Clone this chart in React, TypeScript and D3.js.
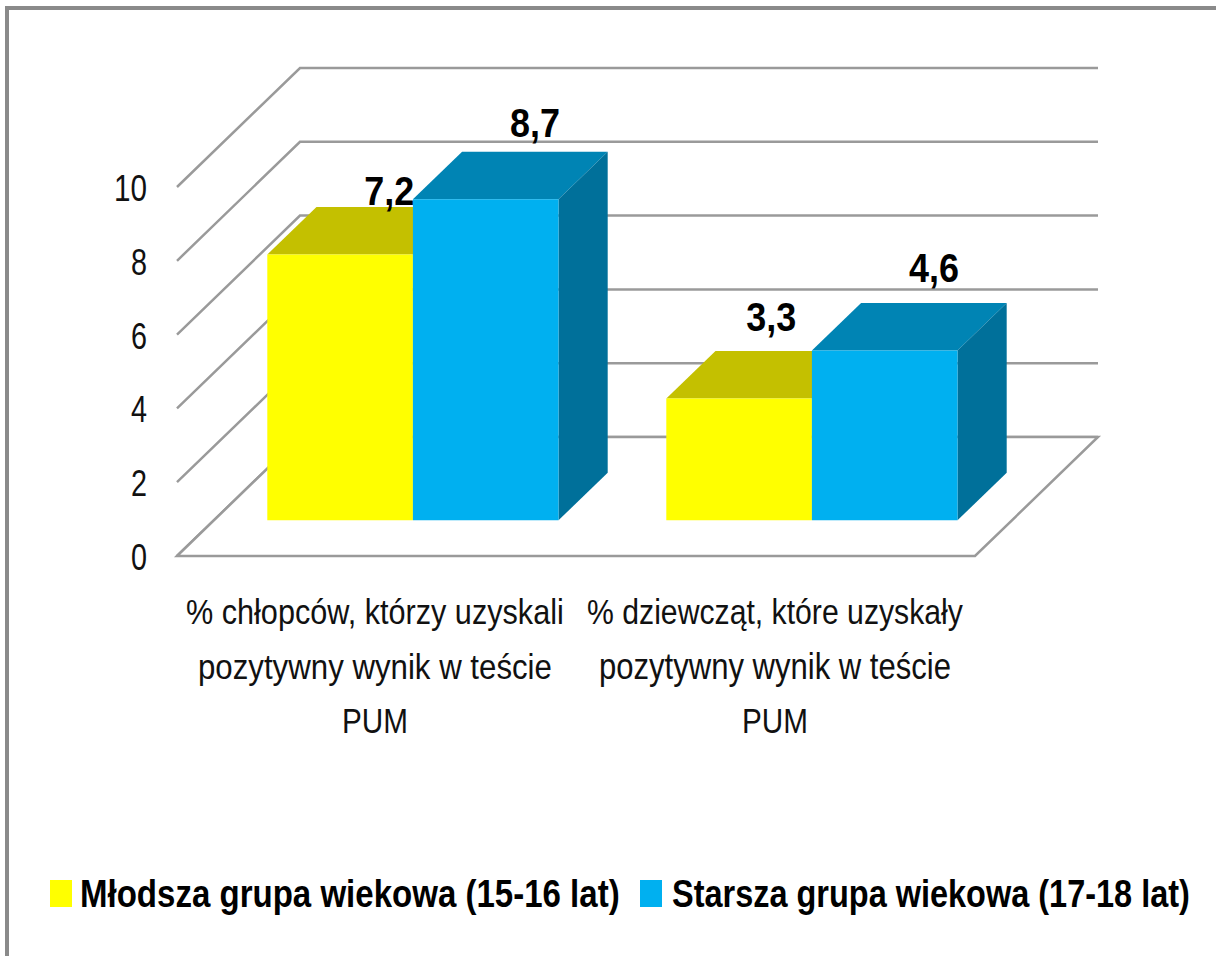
import React from "react";
import * as d3 from "d3";

const categories = ["boys", "girls"];
const categoryLines = [
  ["% chłopców, którzy uzyskali", "pozytywny wynik w teście", "PUM"],
  ["% dziewcząt, które uzyskały", "pozytywny wynik w teście", "PUM"],
];
const seriesNames = ["Młodsza grupa wiekowa (15-16 lat)", "Starsza grupa wiekowa (17-18 lat)"];
const younger = [7.2, 3.3];
const older = [8.7, 4.6];
const valueLabels = [["7,2", "3,3"], ["8,7", "4,6"]];
const yTicks = [0, 2, 4, 6, 8, 10];

const frontColors = ["#ffff00", "#00b0f0"];
const topColors = ["#c4c000", "#0084b4"];
const sideColors = ["#9a9800", "#00709a"];
const gridColor = "#9a9a9a";
const family = "'Liberation Sans'";

const y = d3.scaleLinear().domain([0, 10]).range([556, 187]);
const depthX = d3.scaleLinear().domain([0, 1]).range([0, 123]);
const depthY = d3.scaleLinear().domain([0, 1]).range([0, -119]);
const x0 = d3.scaleBand().domain(categories).range([176.5, 974.5]).paddingInner(0.27).paddingOuter(0.135);
const x1 = d3.scaleBand().domain(["0", "1"]).range([0, x0.bandwidth()]);
const D0 = 0.3;
const D1 = 0.7;
const pt = (x: number, v: number, d: number) => [x + depthX(d), y(v) + depthY(d)].map((n) => n.toFixed(1)).join(",");
const px = (x: number, v: number, d: number) => [x + depthX(d), y(v) + depthY(d)];
// hand placement of the value labels relative to the back top edge of the bar
const labelNudge = [[[0, -2], [-17, -20]], [[0, -15], [0, -21]]];
const catWidths = [[378, 354, 66], [376, 352, 66]];
const catCenters = [375, 775];

const ctx = document.createElement("canvas").getContext("2d")!;
function FitText({ text, x, y: ty, width, size, bold, fill, anchor = "start" }: {
  text: string; x: number; y: number; width: number; size: number; bold?: boolean; fill: string; anchor?: string;
}) {
  ctx.font = `${bold ? "bold " : ""}${size}px ${family}`;
  const k = width / ctx.measureText(text).width;
  return (
    <text
      transform={`translate(${x},${ty}) scale(${k.toFixed(4)},1)`}
      textAnchor={anchor}
      fontSize={size}
      fontWeight={bold ? "bold" : "normal"}
      fill={fill}
    >
      {text}
    </text>
  );
}

function Bar({ cat, si, v }: { cat: string; si: number; v: number }) {
  const l = x0(cat)! + x1(String(si))!;
  const r = l + x1.bandwidth();
  return (
    <g>
      <polygon points={[pt(l, v, D0), pt(l, v, D1), pt(r, v, D1), pt(r, v, D0)].join(" ")} fill={topColors[si]} />
      <polygon points={[pt(r, 0, D0), pt(r, 0, D1), pt(r, v, D1), pt(r, v, D0)].join(" ")} fill={sideColors[si]} />
      <polygon points={[pt(l, 0, D0), pt(r, 0, D0), pt(r, v, D0), pt(l, v, D0)].join(" ")} fill={frontColors[si]} />
    </g>
  );
}

export default function App() {
  const series = [younger, older];
  const lineH = 54.5;
  return (
    <svg width={1216} height={956} style={{ position: "absolute", left: 0, top: 0, background: "#fff" }} fontFamily={family}>
      <path d="M7,956V8H1216" fill="none" stroke="#8a8a8a" strokeWidth={4} />
      {yTicks.map((t) => (
        <g key={t}>
          <polyline
            points={[pt(177, t, 0), pt(177, t, 1), pt(975, t, 1)].join(" ")}
            fill="none"
            stroke={gridColor}
            strokeWidth={2.5}
          />
          <FitText text={String(t)} x={147} y={y(t) + 14} width={t === 10 ? 33 : 16} size={37} fill="#111" anchor="end" />
        </g>
      ))}
      <polygon
        points={[pt(177, 0, 0), pt(177, 0, 1), pt(975, 0, 1), pt(975, 0, 0)].join(" ")}
        fill="#fff"
        stroke={gridColor}
        strokeWidth={2.5}
      />
      {categories.map((c, i) => (
        <g key={c}>
          {series.map((s, si) => (
            <Bar key={si} cat={c} si={si} v={s[i]} />
          ))}
        </g>
      ))}
      {categories.map((c, i) =>
        series.map((s, si) => {
          const cx = x0(c)! + x1(String(si))! + x1.bandwidth() / 2;
          const [lx, ly] = px(cx, s[i], D1);
          const [nx, ny] = labelNudge[si][i];
          return (
            <FitText key={c + si} text={valueLabels[si][i]} x={lx + nx} y={ly + ny} width={50} size={40} bold fill="#000" anchor="middle" />
          );
        })
      )}
      {categoryLines.map((lines, i) =>
        lines.map((ln, j) => (
          <FitText
            key={i + "-" + j}
            text={ln}
            x={catCenters[i] - catWidths[i][j] / 2}
            y={624 + j * lineH}
            width={catWidths[i][j]}
            size={36}
            fill="#111"
          />
        ))
      )}
      {seriesNames.map((n, i) => (
        <g key={n}>
          <rect x={[50, 640][i]} y={880} width={22} height={27} fill={frontColors[i]} />
          <FitText text={n} x={[80, 672][i]} y={907} width={[540, 518][i]} size={39} bold fill="#000" />
        </g>
      ))}
    </svg>
  );
}
